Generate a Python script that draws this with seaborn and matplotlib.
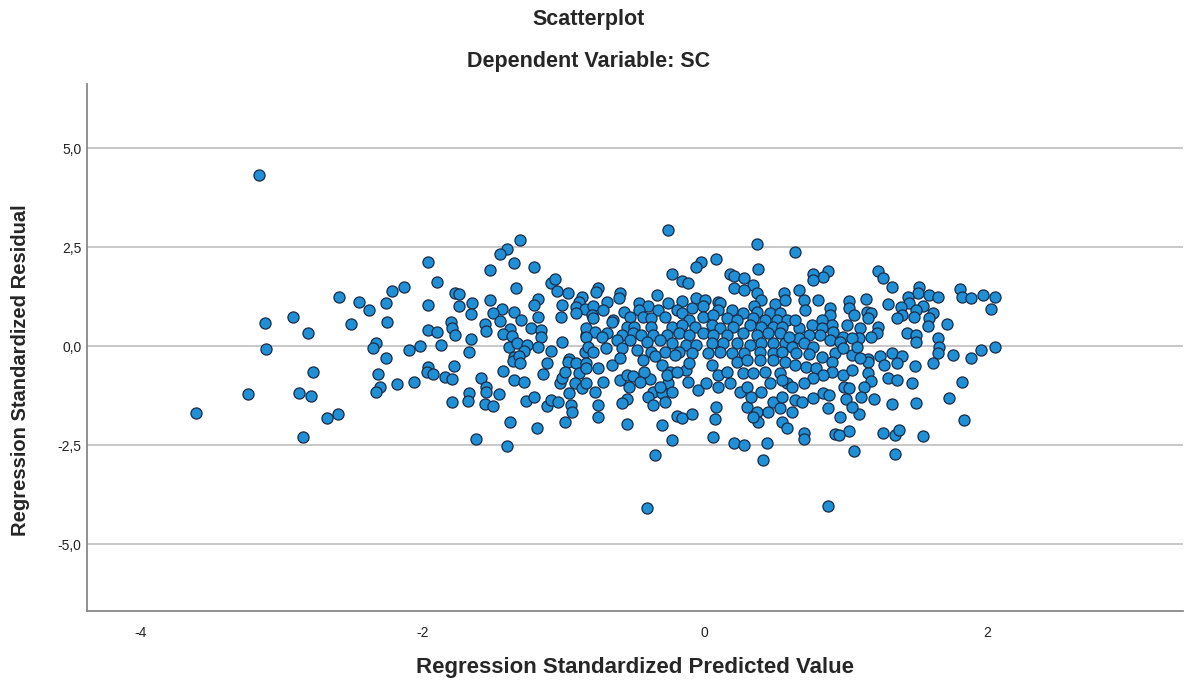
import matplotlib
matplotlib.use("Agg")
import matplotlib.pyplot as plt
import seaborn as sns
import pandas as pd

# Standardized predicted value / standardized residual pairs, grouped by region
tail_points = [
    (-3.16, 4.32), (-2.59, 1.24), (-2.45, 1.11), (-2.38, 0.91), (-2.51, 0.56), (-2.92, 0.73),
    (-3.12, 0.58), (-2.81, 0.33), (-3.11, -0.08), (-2.33, 0.08), (-2.35, -0.05), (-2.26, 1.09),
    (-2.25, 0.61), (-2.22, 1.40), (-2.26, -0.30), (-2.78, -0.66), (-2.32, -0.71), (-2.30, -1.04),
    (-2.33, -1.16), (-3.24, -1.21), (-2.88, -1.19), (-2.79, -1.26), (-3.61, -1.69), (-2.68, -1.82),
    (-2.60, -1.72), (-2.85, -2.30),
]

left_points = [
    (-1.31, 2.68), (-1.40, 2.45), (-1.45, 2.32), (-1.96, 2.12), (-1.35, 2.10), (-1.52, 1.92),
    (-1.21, 2.00), (-1.90, 1.62), (-2.13, 1.49), (-1.34, 1.46), (-1.09, 1.59), (-1.06, 1.69),
    (-1.05, 1.39), (-0.97, 1.34), (-1.77, 1.34), (-1.74, 1.31), (-1.96, 1.04), (-1.74, 1.01),
    (-1.65, 1.09), (-1.52, 1.16), (-1.18, 1.19), (-1.21, 1.04), (-1.01, 1.04), (-0.87, 1.24),
    (-0.89, 1.11), (-0.91, 0.98), (-0.85, 0.93), (-1.66, 0.81), (-1.44, 0.93), (-1.50, 0.83),
    (-1.35, 0.86), (-1.45, 0.63), (-1.30, 0.66), (-1.18, 0.73), (-1.02, 0.73), (-0.91, 0.83),
    (-1.80, 0.61), (-1.56, 0.56), (-1.23, 0.45), (-1.16, 0.40), (-1.96, 0.40), (-1.90, 0.35),
    (-1.79, 0.45), (-1.77, 0.28), (-1.55, 0.38), (-1.38, 0.43), (-1.43, 0.30), (-1.37, 0.25),
    (-1.16, 0.23), (-0.84, 0.28), (-2.10, -0.10), (-2.02, 0.00), (-1.87, 0.03), (-1.66, 0.18),
    (-1.67, -0.15), (-1.39, -0.03), (-1.33, 0.08), (-1.26, 0.03), (-1.28, -0.13), (-1.18, -0.03),
    (-1.09, -0.13), (-1.01, 0.10), (-0.85, -0.15), (-1.35, -0.28), (-0.96, -0.33),
    (-1.96, -0.53), (-1.97, -0.66), (-1.93, -0.70), (-1.78, -0.51), (-1.84, -0.78), (-1.79, -0.83),
    (-2.18, -0.96), (-2.06, -0.91), (-1.59, -0.81), (-1.55, -1.04), (-1.55, -1.16), (-1.67, -1.19),
    (-1.68, -1.39), (-1.46, -1.21), (-1.56, -1.46), (-1.50, -1.52), (-1.79, -1.41), (-1.43, -0.63),
    (-1.35, -0.86), (-1.28, -0.91), (-1.15, -0.71), (-1.12, -0.43), (-1.27, -1.39), (-1.21, -1.29),
    (-1.12, -1.52), (-1.09, -1.36), (-1.04, -1.41), (-1.38, -1.92), (-1.19, -2.07), (-0.99, -1.92),
    (-1.62, -2.35), (-1.40, -2.53), (-0.95, -1.49), (-0.94, -1.67), (-0.96, -1.19), (-1.03, -0.93),
    (-1.01, -0.81), (-0.97, -0.40), (-0.91, -0.43), (-0.89, -0.68), (-0.92, -0.93), (-0.87, -1.06),
    (-0.84, -0.93), (-0.99, -0.66), (-0.84, -0.43), (-1.36, -0.38), (-1.32, -0.25), (-1.31, -0.43),
]

center_points = [
    (-0.26, 2.93), (0.37, 2.58), (-0.03, 2.12), (-0.06, 2.00), (0.08, 2.20), (0.38, 1.94),
    (-0.23, 1.82), (-0.16, 1.64), (-0.12, 1.59), (0.18, 1.82), (0.21, 1.77), (0.28, 1.72),
    (0.34, 1.54), (0.21, 1.46), (0.28, 1.41), (0.37, 1.34), (-0.76, 1.46), (-0.77, 1.36),
    (-0.60, 1.34), (-0.61, 1.21), (-0.34, 1.29), (-0.69, 1.11), (-0.79, 1.01), (-0.47, 1.09),
    (-0.40, 1.01), (-0.26, 1.09), (-0.16, 1.14), (-0.06, 1.21), (0.00, 1.16), (0.09, 1.11),
    (0.11, 1.09), (0.40, 1.16), (0.50, 1.06), (0.56, 1.34), (0.57, 1.16), (0.35, 1.01),
    (-0.80, 0.78), (-0.72, 0.91), (-0.57, 0.86), (-0.47, 0.91), (-0.33, 0.91), (-0.20, 0.91),
    (-0.09, 0.96), (-0.01, 1.01), (0.09, 0.91), (0.19, 0.91), (0.27, 0.83), (0.37, 0.86),
    (0.46, 0.83), (0.53, 0.83), (-0.79, 0.71), (-0.65, 0.66), (-0.53, 0.73), (-0.44, 0.73),
    (-0.38, 0.71), (-0.28, 0.73), (-0.16, 0.83), (-0.11, 0.66), (-0.01, 0.73), (0.06, 0.78),
    (0.16, 0.71), (0.23, 0.66), (0.34, 0.71), (0.43, 0.66), (0.51, 0.66), (0.58, 0.66),
    (-0.66, 0.61), (-0.55, 0.48), (-0.50, 0.48), (-0.38, 0.48), (-0.23, 0.48), (-0.16, 0.53),
    (-0.07, 0.48), (0.05, 0.53), (0.11, 0.45), (0.20, 0.48), (0.32, 0.53), (0.40, 0.48),
    (0.48, 0.48), (0.55, 0.48), (-0.84, 0.45), (-0.78, 0.35), (-0.69, 0.33), (-0.59, 0.28),
    (-0.51, 0.33), (-0.45, 0.28), (-0.37, 0.28), (-0.27, 0.28), (-0.18, 0.33), (-0.11, 0.28),
    (-0.01, 0.33), (0.06, 0.28), (0.16, 0.28), (0.27, 0.33), (0.37, 0.28), (0.45, 0.33),
    (0.53, 0.33), (-0.84, 0.23), (-0.73, 0.23), (-0.62, 0.15), (-0.53, 0.15), (-0.41, 0.10),
    (-0.32, 0.15), (-0.23, 0.08), (-0.13, 0.03), (-0.06, 0.03), (0.05, 0.08), (0.13, 0.08),
    (0.23, 0.08), (0.32, 0.03), (0.40, 0.08), (0.48, 0.08), (0.57, 0.08), (-0.83, -0.03),
    (-0.79, -0.15), (-0.70, -0.05), (-0.59, -0.05), (-0.48, -0.10), (-0.38, -0.15), (-0.28, -0.15),
    (-0.18, -0.15), (-0.09, -0.18), (0.02, -0.18), (0.11, -0.15), (0.19, -0.18), (0.28, -0.18),
    (0.39, -0.15), (0.48, -0.18), (0.55, -0.15),
    (-0.66, -0.48), (-0.84, -0.56), (-0.76, -0.56), (-0.72, -0.91), (-0.78, -1.16), (-0.76, -1.49),
    (-0.76, -1.79), (-0.60, -0.86), (-0.55, -0.73), (-0.51, -0.76), (-0.54, -1.04), (-0.55, -1.34),
    (-0.59, -1.44), (-0.55, -1.97), (-0.44, -0.35), (-0.39, -0.83), (-0.37, -1.16), (-0.40, -1.29),
    (-0.37, -1.49), (-0.30, -1.19), (-0.28, -1.41), (-0.30, -1.99), (-0.26, -0.93), (-0.23, -1.16),
    (-0.35, -0.25), (-0.30, -0.48), (-0.25, -0.66), (-0.21, -0.23), (-0.20, -1.77), (-0.16, -1.82),
    (-0.09, -1.72), (-0.23, -2.37), (-0.35, -2.75), (-0.41, -4.09), (-0.13, -0.61), (-0.12, -0.91),
    (-0.05, -1.11), (-0.11, -0.43), (0.01, -0.93), (0.05, -0.48), (0.09, -1.04), (0.09, -0.73),
    (0.08, -1.54), (0.07, -1.84), (0.06, -2.30), (0.16, -0.66), (0.18, -0.93), (0.23, -0.40),
    (0.27, -0.68), (0.25, -1.16), (0.30, -1.04), (0.30, -1.54), (0.33, -1.29), (0.34, -0.68),
    (0.37, -1.67), (0.38, -1.92), (0.34, -1.79), (0.40, -1.16), (0.43, -0.66), (0.46, -0.93),
    (0.48, -1.41), (0.45, -1.67), (0.53, -1.57), (0.55, -1.92), (0.55, -1.29), (0.58, -0.93),
    (0.53, -0.68), (0.48, -0.35), (0.57, -0.40), (0.39, -0.35), (0.30, -0.35), (0.21, -2.45),
    (0.28, -2.50), (0.44, -2.45), (0.41, -2.88), (-0.60, -0.30), (-0.27, -0.73), (-0.20, -0.66),
    (-0.43, -0.66), (-0.32, -1.04), (-0.46, -0.91),
]

right_points = [
    (0.64, 2.37), (0.87, 1.89), (0.84, 1.74), (0.77, 1.82), (0.77, 1.67), (1.23, 1.89),
    (1.26, 1.72), (1.33, 1.49), (1.81, 1.44), (1.82, 1.24), (1.89, 1.21), (1.97, 1.29),
    (2.06, 1.24), (2.03, 0.93), (1.52, 1.49), (1.51, 1.34), (1.44, 1.24), (1.59, 1.29),
    (1.65, 1.24), (1.45, 1.09), (1.55, 1.01), (1.50, 0.91), (1.39, 0.98), (1.30, 1.06),
    (1.14, 1.19), (1.02, 1.14), (1.02, 0.96), (1.06, 0.78), (1.15, 0.86), (1.18, 0.83),
    (1.16, 0.71), (1.40, 0.78), (1.36, 0.71), (1.48, 0.73), (1.62, 0.83), (1.59, 0.71),
    (1.58, 0.51), (1.72, 0.56), (1.43, 0.33), (1.50, 0.28), (1.50, 0.10), (1.65, 0.20),
    (1.66, -0.03), (1.23, 0.48), (1.22, 0.33), (1.18, 0.23), (1.10, 0.45), (1.09, 0.20),
    (1.01, 0.53), (0.98, 0.23), (0.89, 0.96), (0.80, 1.16), (0.67, 1.41), (0.70, 1.16),
    (0.71, 0.91), (0.89, 0.78), (0.90, 0.53), (0.83, 0.66), (0.76, 0.53), (0.67, 0.45),
    (0.64, 0.66), (0.83, 0.45), (0.91, 0.35), (0.82, 0.28), (0.74, 0.28), (0.67, 0.20),
    (0.60, 0.23), (0.70, 0.08), (0.77, -0.03), (0.62, -0.03), (0.89, 0.15), (0.96, 0.10),
    (1.04, 0.20), (1.76, -0.23), (1.89, -0.30), (1.96, -0.10), (2.06, -0.03), (1.65, -0.18),
    (1.33, -0.18), (1.40, -0.25), (1.24, -0.25), (1.16, -0.33), (1.04, -0.23), (0.92, -0.18),
    (0.83, -0.28), (0.74, -0.20), (0.65, -0.18), (1.08, -0.03), (0.98, -0.05),
    (1.62, -0.43), (1.49, -0.51), (1.47, -0.93), (1.82, -0.91), (1.73, -1.31), (1.84, -1.87),
    (1.55, -2.27), (1.50, -1.44), (1.35, -2.73), (1.35, -2.25), (1.38, -2.12), (1.26, -2.20),
    (1.33, -1.46), (1.20, -1.34), (1.30, -0.81), (1.36, -0.86), (1.36, -0.43), (1.27, -0.48),
    (1.16, -0.40), (1.16, -0.68), (1.18, -0.88), (1.13, -1.04), (1.11, -1.29), (1.09, -1.72),
    (1.02, -2.15), (1.06, -2.65), (0.87, -4.04), (0.96, -1.79), (0.92, -2.22), (0.95, -2.25),
    (0.70, -2.20), (0.70, -2.35), (0.87, -1.57), (1.00, -1.34), (1.04, -1.54), (0.99, -1.04),
    (1.02, -1.06), (0.98, -0.73), (1.04, -0.61), (1.10, -0.30), (0.90, -0.40), (0.64, -0.48),
    (0.72, -0.53), (0.79, -0.56), (0.90, -0.66), (0.84, -0.73), (0.77, -0.81), (0.70, -0.93),
    (0.62, -1.04), (0.55, -0.86), (0.64, -1.36), (0.69, -1.41), (0.77, -1.31), (0.84, -1.19),
    (0.88, -1.24), (0.62, -1.67), (0.58, -2.07),
]

y_ticks = [-5.0, -2.5, 0.0, 2.5, 5.0]
y_tick_labels = ["-5,0", "-2,5", "0,0", "2,5", "5,0"]
x_ticks = [-4, -2, 0, 2]
x_tick_labels = ["-4", "-2", "0", "2"]

points = tail_points + left_points + center_points + right_points
df = pd.DataFrame(points, columns=["predicted", "residual"])

sns.set_style("white")
plt.rcParams["font.family"] = ["Liberation Sans", "DejaVu Sans"]

fig = plt.figure(figsize=(11.9, 6.84), dpi=100)
ax = fig.add_axes([0.0731, 0.1067, 0.9210, 0.7703])

for yv in y_ticks:
    ax.axhline(yv, color="#c8c8c8", linewidth=1.4, zorder=0)

sns.scatterplot(
    data=df, x="predicted", y="residual", ax=ax,
    s=64, color="#1f8fd6", edgecolor="#1a2b45", linewidth=0.9, zorder=3,
)

ax.set_xlim(-4.38, 3.39)
ax.set_ylim(-6.69, 6.62)
ax.set_xticks(x_ticks)
ax.set_xticklabels(x_tick_labels)
ax.set_yticks(y_ticks)
ax.set_yticklabels(y_tick_labels)
ax.tick_params(axis="both", length=0, labelsize=10, colors="#222222")
ax.tick_params(axis="x", pad=11)
ax.tick_params(axis="y", pad=4)

for side in ["top", "right"]:
    ax.spines[side].set_visible(False)
for side in ["left", "bottom"]:
    ax.spines[side].set_color("#888888")
    ax.spines[side].set_linewidth(1.3)

ax.set_xlabel("Regression Standardized Predicted Value", fontsize=16, fontweight="bold", va="center")
ax.xaxis.set_label_coords(0.5, -0.108)
ax.set_ylabel("Regression Standardized Residual", fontsize=14.5, fontweight="bold", va="center")
ax.yaxis.set_label_coords(-0.061, 0.457)

fig.text(0.495, 1 - 20 / 684, "Scatterplot", ha="center", va="center", fontsize=15.5, fontweight="bold")
fig.text(0.495, 1 - 62 / 684, "Dependent Variable: SC", ha="center", va="center", fontsize=15.5, fontweight="bold")

fig.savefig("out.png", dpi=100)
